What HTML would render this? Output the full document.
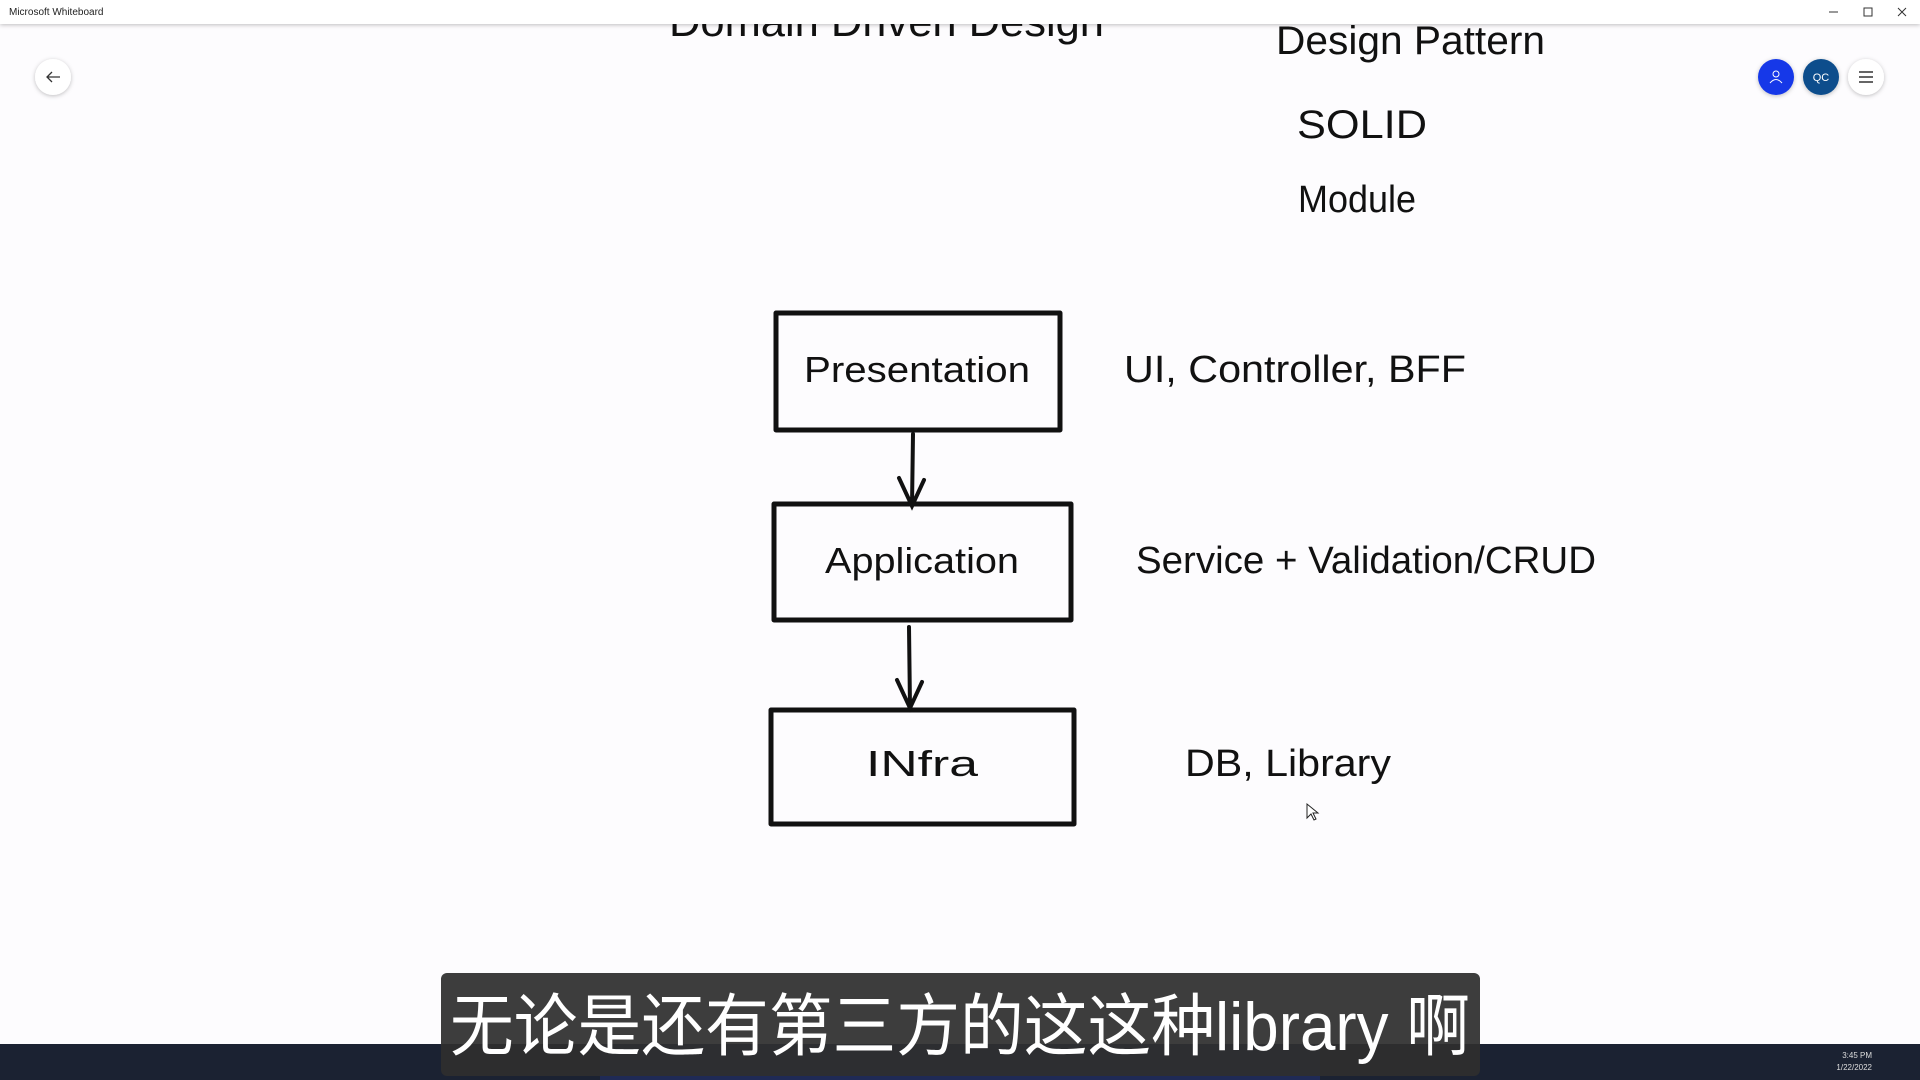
<!DOCTYPE html>
<html><head><meta charset="utf-8"><style>
html,body{margin:0;padding:0;width:1920px;height:1080px;overflow:hidden;background:#fdfcfe;}
svg{position:absolute;left:0;top:0;}
.t{font-family:"Comic Sans MS","Liberation Sans",sans-serif;fill:#111;}
</style></head><body>
<svg width="1920" height="1080" viewBox="0 0 1920 1080">
<defs><filter id="sh" x="-50%" y="-50%" width="200%" height="200%"><feDropShadow dx="0" dy="1" stdDeviation="2" flood-opacity="0.25"/></filter></defs>
<!-- canvas text -->
<text class="t" x="669" y="36" font-size="42" textLength="435" lengthAdjust="spacingAndGlyphs">Domain Driven Design</text>
<text class="t" x="1276" y="54" font-size="40" textLength="269" lengthAdjust="spacingAndGlyphs">Design Pattern</text>
<text class="t" x="1297" y="138" font-size="40" textLength="130" lengthAdjust="spacingAndGlyphs">SOLID</text>
<text class="t" x="1298" y="212" font-size="38" textLength="118" lengthAdjust="spacingAndGlyphs">Module</text>
<!-- boxes -->
<g fill="none" stroke="#111" stroke-width="5" stroke-linejoin="round">
<rect x="776" y="313" width="284" height="117"/>
<rect x="774" y="504" width="297" height="116"/>
<rect x="771" y="710" width="303" height="114"/>
</g>
<g fill="none" stroke="#111" stroke-width="4" stroke-linecap="round">
<path d="M913 434 L912 506 M899 478 L912 506 L924 480"/>
<path d="M909 627 L910 708 M897 680 L910 708 L922 682"/>
</g>
<text class="t" x="917" y="382" font-size="36" text-anchor="middle" textLength="226" lengthAdjust="spacingAndGlyphs">Presentation</text>
<text class="t" x="922" y="573" font-size="36" text-anchor="middle" textLength="194" lengthAdjust="spacingAndGlyphs">Application</text>
<text class="t" x="922" y="776" font-size="36" text-anchor="middle" textLength="112" lengthAdjust="spacingAndGlyphs">INfra</text>
<text class="t" x="1124" y="382" font-size="38" textLength="342" lengthAdjust="spacingAndGlyphs">UI, Controller, BFF</text>
<text class="t" x="1136" y="573" font-size="38" textLength="460" lengthAdjust="spacingAndGlyphs">Service + Validation/CRUD</text>
<text class="t" x="1185" y="776" font-size="38" textLength="206" lengthAdjust="spacingAndGlyphs">DB, Library</text>
<path d="M1307 804 L1307 818 L1311 814 L1314 820 L1316 819 L1313 813 L1318 813 Z" fill="#fff" stroke="#222" stroke-width="1"/>
<!-- title bar -->
<rect x="0" y="0" width="1920" height="24" fill="#fff" filter="url(#sh)"/>
<text x="9" y="15" font-family="Liberation Sans,sans-serif" font-size="10" fill="#222">Microsoft Whiteboard</text>
<g stroke="#333" stroke-width="1" fill="none"><path d="M1829 12 H1838"/><rect x="1864" y="8" width="8" height="8"/><path d="M1898 8 L1906 16 M1906 8 L1898 16"/></g>
<!-- buttons -->
<circle cx="53" cy="77" r="18" fill="#fff" filter="url(#sh)"/>
<path d="M47 77 H60 M52 72 L47 77 L52 82" stroke="#333" stroke-width="1.3" fill="none"/>
<circle cx="1776" cy="77" r="18" fill="#1438e8" filter="url(#sh)"/>
<circle cx="1776" cy="74" r="3" stroke="#fff" fill="none"/><path d="M1770 83 Q1776 76 1782 83" stroke="#fff" fill="none"/>
<circle cx="1821" cy="77" r="18" fill="#0a4d8c" filter="url(#sh)"/>
<text x="1821" y="81" text-anchor="middle" font-family="Liberation Sans,sans-serif" font-size="11" fill="#fff">QC</text>
<circle cx="1866" cy="77" r="18" fill="#fff" filter="url(#sh)"/>
<path d="M1859 72 H1873 M1859 77 H1873 M1859 82 H1873" stroke="#333" stroke-width="1.5"/>
<!-- taskbar -->
<rect x="0" y="1044" width="1920" height="36" fill="#1b2232"/>
<rect x="600" y="1044" width="720" height="36" fill="#1f2a55"/>
<text x="1872" y="1058" font-family="Liberation Sans,sans-serif" font-size="8" fill="#ddd" text-anchor="end">3:45 PM</text>
<text x="1872" y="1070" font-family="Liberation Sans,sans-serif" font-size="8" fill="#ddd" text-anchor="end">1/22/2022</text>
<!-- subtitle -->
<rect x="441" y="973" width="1039" height="103" rx="6" fill="#2e2e2e" fill-opacity="0.93"/>
<text x="960" y="1050" text-anchor="middle" font-family="Liberation Sans,'Noto Sans CJK SC',sans-serif" font-size="68" fill="#fff" textLength="1020" lengthAdjust="spacingAndGlyphs">无论是还有第三方的这这种library 啊</text>
</svg>
</body></html>
